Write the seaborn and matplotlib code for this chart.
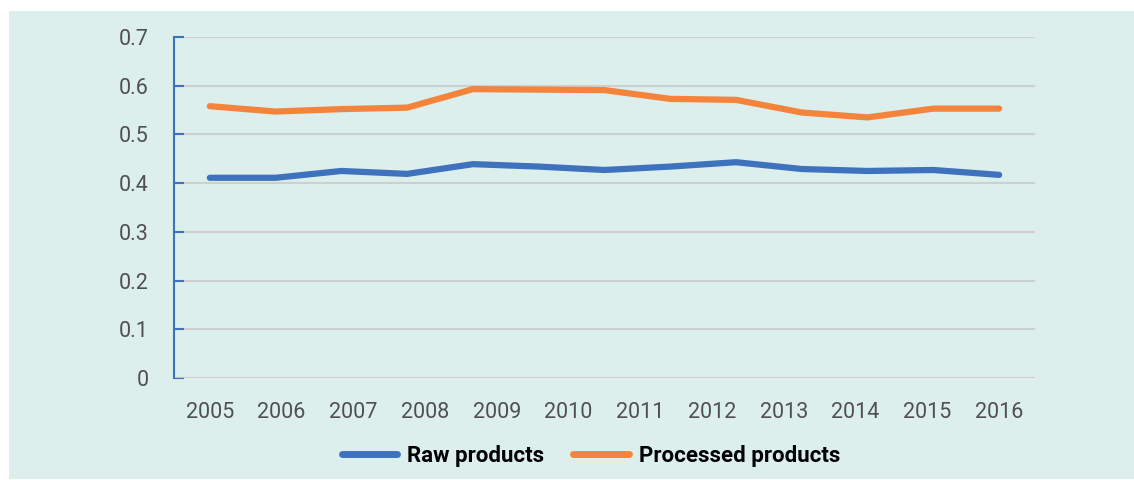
import numpy as np
import pandas as pd
import matplotlib.pyplot as plt
import seaborn as sns
from matplotlib.patches import Rectangle

# Data (13 points per series drawn over 12 year labels)
years = ["2005", "2006", "2007", "2008", "2009", "2010",
         "2011", "2012", "2013", "2014", "2015", "2016"]
raw = [0.411, 0.411, 0.425, 0.419, 0.439, 0.434, 0.427,
       0.434, 0.443, 0.429, 0.425, 0.427, 0.417]
processed = [0.558, 0.547, 0.552, 0.555, 0.593, 0.592, 0.591,
             0.573, 0.571, 0.545, 0.535, 0.553, 0.553]
series = ["Raw products", "Processed products"]
colors = ["#3f72bd", "#f4843c"]

pos = np.linspace(0, len(years) - 1, len(raw))
df = pd.DataFrame({
    "x": np.concatenate([pos, pos]),
    "value": raw + processed,
    "series": [series[0]] * len(raw) + [series[1]] * len(processed),
})

sns.set_style("white")
plt.rcParams["font.family"] = ["Roboto", "DejaVu Sans"]

bg = "#dcefed"
fig = plt.figure(figsize=(11.34, 4.8), dpi=100)
fig.patch.set_facecolor("white")
fig.add_artist(Rectangle((9 / 1134, 1 / 480), 1125 / 1134, 468 / 480,
                         transform=fig.transFigure, facecolor=bg,
                         edgecolor="none", zorder=-5))

ax = fig.add_axes([0.1534, 0.2125, 0.7593, 0.7104])
ax.set_facecolor(bg)

sns.lineplot(data=df, x="x", y="value", hue="series", palette=colors,
             linewidth=4.5, ax=ax, legend=False,
             solid_capstyle="round", solid_joinstyle="round", zorder=3)

ax.set_xlim(-0.5, len(years) - 0.5)
ax.set_ylim(0, 0.7)
ax.set_xticks(range(len(years)))
ax.set_xticklabels(years)
ax.set_yticks(np.arange(0, 0.71, 0.1))
ax.set_yticklabels(["0", "0.1", "0.2", "0.3", "0.4", "0.5", "0.6", "0.7"])
ax.set_xlabel("")
ax.set_ylabel("")

ax.yaxis.grid(True, color="#cfcfcf", linewidth=1.5, zorder=1)
ax.xaxis.grid(False)
for s in ["top", "right", "bottom"]:
    ax.spines[s].set_visible(False)
ax.spines["left"].set_color("#3f72bd")
ax.spines["left"].set_linewidth(1.5)
ax.axhline(0, color="#cfcfcf", linewidth=2, zorder=2)

ax.tick_params(axis="y", direction="in", length=7, width=1.5, color="#3f72bd",
               labelsize=15.5, labelcolor="#505050", pad=18, left=True)
ax.tick_params(axis="x", length=0, labelsize=15.5, labelcolor="#505050", pad=17)

handles = [plt.Line2D([0], [0], color=c, linewidth=5, solid_capstyle="round")
           for c in colors]
fig.legend(handles, series, loc="center", bbox_to_anchor=(0.521, 0.05),
           ncol=2, frameon=False, handlelength=2.5, handletextpad=0.45,
           columnspacing=1.3, labelcolor="black",
           prop={"weight": "bold", "size": 16})

fig.savefig("out.png", dpi=100, facecolor=fig.get_facecolor())
